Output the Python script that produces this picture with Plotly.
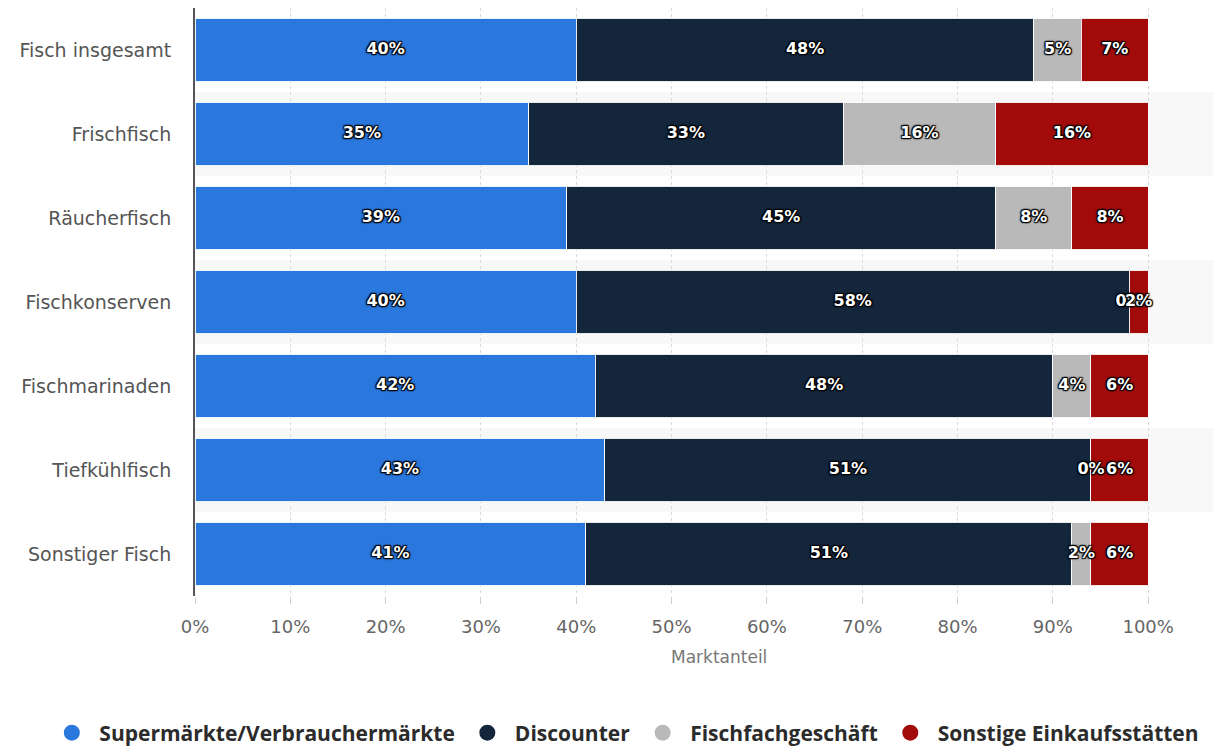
import plotly.graph_objects as go

# Market share of fish purchases by type of store
categories = ["Fisch insgesamt", "Frischfisch", "Räucherfisch", "Fischkonserven",
              "Fischmarinaden", "Tiefkühlfisch", "Sonstiger Fisch"]
series_names = ["Supermärkte/Verbrauchermärkte", "Discounter",
                "Fischfachgeschäft", "Sonstige Einkaufsstätten"]
supermaerkte = [40, 35, 39, 40, 42, 43, 41]
discounter = [48, 33, 45, 58, 48, 51, 51]
fachgeschaeft = [5, 16, 8, 0, 4, 0, 2]
sonstige = [7, 16, 8, 2, 6, 6, 6]
tick_values = [0, 10, 20, 30, 40, 50, 60, 70, 80, 90, 100]
tick_labels = ["0%", "10%", "20%", "30%", "40%", "50%", "60%", "70%", "80%", "90%", "100%"]

colors = ["#2a77dd", "#13263b", "#b9b9b9", "#a30b0b"]
series = [supermaerkte, discounter, fachgeschaeft, sonstige]

fig = go.Figure()

# light alternating row bands
for i, cat in enumerate(categories):
    if i % 2 == 1:
        fig.add_shape(type="rect", xref="x domain", yref="y",
                      x0=0, x1=1, y0=i - 0.5, y1=i + 0.5,
                      fillcolor="#f8f8f8", line_width=0, layer="below")

for name, vals, col in zip(series_names, series, colors):
    fig.add_trace(go.Bar(
        y=categories, x=vals, name=name, orientation="h",
        marker=dict(color=col, line=dict(color="rgba(255,255,255,0.9)", width=1)),
        showlegend=False, hoverinfo="skip",
    ))

# value labels centred in each segment
lab_x, lab_y, lab_t = [], [], []
for j, cat in enumerate(categories):
    start = 0
    for vals in series:
        v = vals[j]
        lab_x.append(start + v / 2)
        lab_y.append(cat)
        lab_t.append(f"{v}%")
        start += v
outline = ("1px 1px 1px #000, -1px -1px 1px #000, 1px -1px 1px #000, "
           "-1px 1px 1px #000, 0 0 3px #000")
fig.add_trace(go.Scatter(
    x=lab_x, y=lab_y, text=lab_t, mode="text", showlegend=False, hoverinfo="skip",
    textfont=dict(family="DejaVu Sans", size=16, color="white", weight="bold",
                  shadow=outline),
))

# legend entries with round markers
for name, col in zip(series_names, colors):
    fig.add_trace(go.Scatter(
        x=[None], y=[None], mode="markers", name=name,
        marker=dict(symbol="circle", size=22, color=col),
    ))

fig.update_layout(
    barmode="stack",
    bargap=0.24,
    width=1213, height=746,
    margin=dict(l=195, r=0, t=8, b=150, autoexpand=False),
    plot_bgcolor="white", paper_bgcolor="white",
    font=dict(family="DejaVu Sans", color="#555"),
    legend=dict(orientation="h", xref="paper", yref="paper",
                x=-0.148, y=-0.233, xanchor="left", yanchor="middle",
                font=dict(family="Open Sans", size=21, color="#2b2b2b", weight="bold"),
                traceorder="normal", itemwidth=45),
    annotations=[dict(text="Marktanteil", xref="x", yref="paper", x=55, y=0,
                      yshift=-61, yanchor="middle", showarrow=False,
                      font=dict(family="DejaVu Sans", size=17, color="#777"))],
)

fig.update_xaxes(
    range=[0, 106.8], tickvals=tick_values, ticktext=tick_labels,
    showgrid=True, gridcolor="#d9d9d9", griddash="dot", gridwidth=1,
    zeroline=False, ticks="outside", ticklen=7, tickcolor="#d0d0d0",
    ticklabelstandoff=7,
    tickfont=dict(family="DejaVu Sans", size=18, color="#666"),
)
fig.update_yaxes(
    autorange="reversed", categoryorder="array", categoryarray=categories,
    showline=True, linecolor="#555", linewidth=2, showgrid=False,
    ticks="", ticklabelstandoff=18,
    tickfont=dict(family="DejaVu Sans", size=19, color="#555"),
)

fig.write_html("out.html")
